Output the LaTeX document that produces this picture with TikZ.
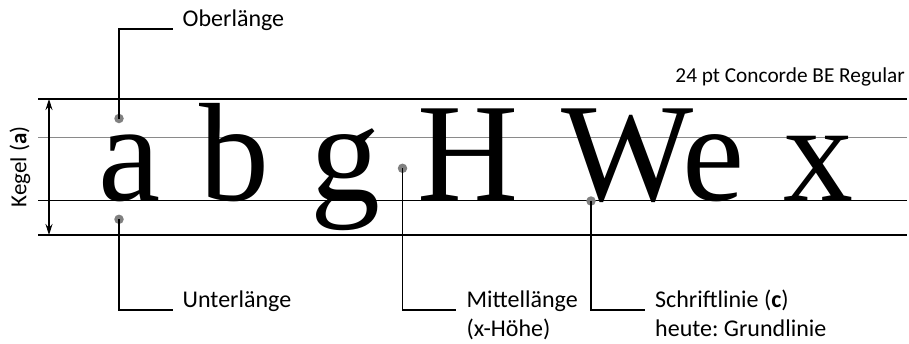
\documentclass[tikz,border=0pt]{standalone}
\usepackage{fontspec}
\setmainfont{Carlito}
\newfontfamily\glyphfont{Liberation Serif}
\usetikzlibrary{arrows.meta}
\frenchspacing
\definecolor{dotgray}{HTML}{808080}
\definecolor{linegray}{HTML}{8A8A8A}
\tikzset{
  thickrule/.style={line width=2pt, black},
  thinrule/.style={line width=1pt},
  glyph/.style={anchor=base west, inner sep=0pt, font=\glyphfont\fontsize{140}{140}\selectfont},
  marker/.style={circle, fill=dotgray, minimum size=9.5pt, inner sep=0pt},
  leader/.style={line width=1.1pt, black},
  label/.style={anchor=base west, inner sep=0pt, font=\fontsize{24}{24}\selectfont},
}
\begin{document}
\begin{tikzpicture}[x=1pt, y=-1pt]
\useasboundingbox (0,0) rectangle (909,343);

% body size and guide lines
\draw[thickrule] (38,99) -- (907,99);
\draw[thinrule, linegray] (38,137.3) -- (907,137.3);
\draw[thinrule, black] (38,200.3) -- (907,200.3);
\draw[thickrule] (38,235) -- (907,235);

% sample glyphs sitting on the baseline
\node[glyph] (ga) at (98,200.3) {a};
\node[glyph] (gb) at (199,200.3) {b};
\node[glyph] (gg) at (310,200.3) {g};
\node[glyph] (gH) at (417,200.3) {H};
\node[glyph] (gWe) at (561,200.3) {We};
\node[glyph] (gx) at (783,200.3) {x};

% body height arrow
\coordinate (ktop) at (49,99);
\coordinate (kbot) at (49,235);
\draw[line width=1.1pt, {Stealth[length=11pt,width=7pt]}-{Stealth[length=11pt,width=7pt]}] (ktop) -- (kbot);
\node[rotate=90, inner sep=0pt, font=\fontsize{23}{23}\selectfont] (kegel) at (20,167) {Kegel (\textbf{a})};

% markers
\node[marker] (dasc) at (119,118.5) {};
\node[marker] (ddesc) at (119,219.3) {};
\node[marker] (dx) at (402.5,168.3) {};
\node[marker] (dbase) at (591,201) {};

% leader ends
\coordinate (easc) at (173,29);
\coordinate (edesc) at (173,310);
\coordinate (ex) at (456,310);
\coordinate (ebase) at (645,310);

\draw[leader] (dasc.center) |- (easc);
\draw[leader] (ddesc.center) |- (edesc);
\draw[leader] (dx.center) |- (ex);
\draw[leader] (dbase.center) |- (ebase);

% labels
\node[label] (lasc) at (182.5,26.5) {Oberlänge};
\node[label] (ldesc) at (182.5,307) {Unterlänge};
\node[label] (lx) at (466.5,307) {Mittellänge};
\node[label] (lx2) at (466.5,336.5) {(x-Höhe)};
\node[label] (lbase) at (655,307) {Schriftlinie (\textbf{c})};
\node[label] (lbase2) at (655,336.5) {heute: Grundlinie};
\node[anchor=base east, inner sep=0pt, font=\fontsize{21.3}{21.3}\selectfont] (title) at (905,82) {24 pt Concorde BE Regular};
\end{tikzpicture}
\end{document}
